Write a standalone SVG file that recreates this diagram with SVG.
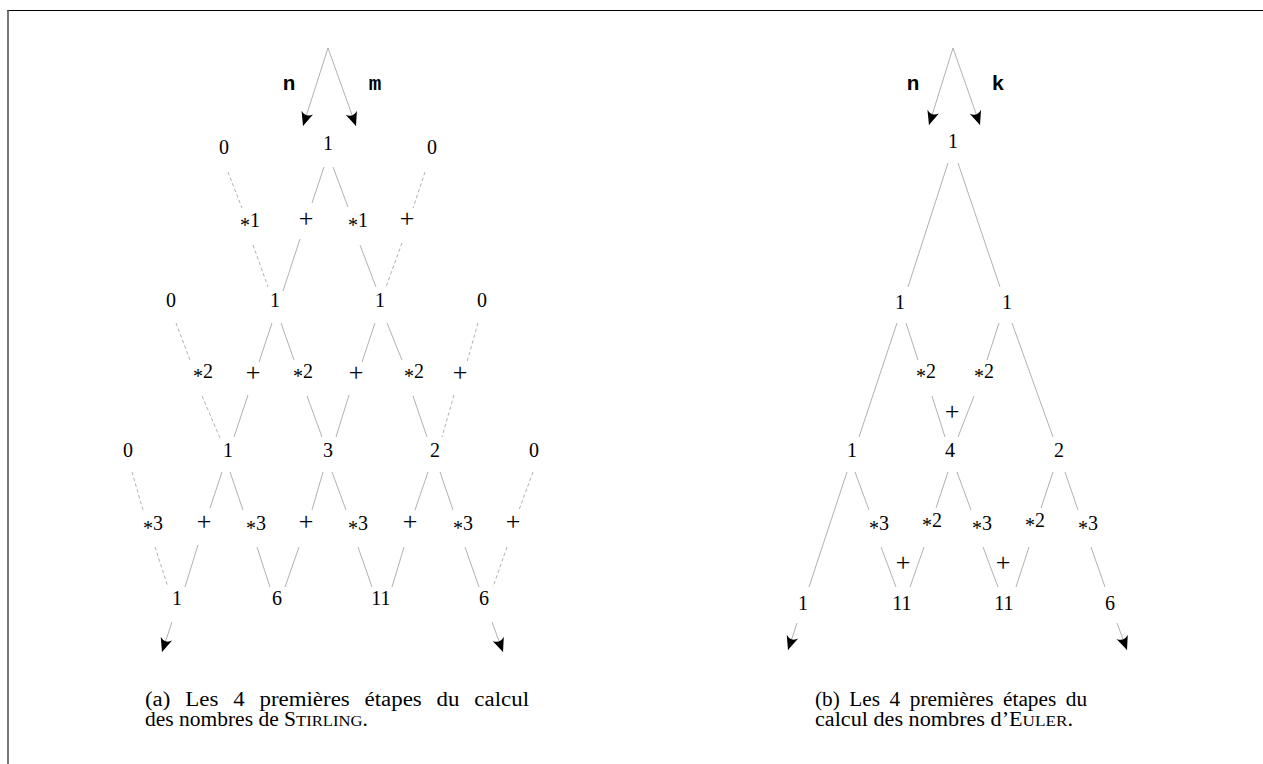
<svg xmlns="http://www.w3.org/2000/svg" width="1263" height="764" viewBox="0 0 1263 764">
<style>
.e{stroke:#a8a8a8;stroke-width:0.9;fill:none}
.d{stroke-dasharray:3.5 2.5}
.a{marker-end:url(#arr)}
.t{font-family:"Liberation Serif",serif;font-size:20px;text-anchor:middle;fill:#000}
.p{font-family:"Liberation Serif",serif;font-size:26px;text-anchor:middle;fill:#000}
.v{font-family:"Liberation Mono",monospace;font-weight:bold;font-size:21px;text-anchor:middle;fill:#000}
.c{font-family:"Liberation Serif",serif;font-size:20px;fill:#000}
.sc{font-size:15.5px}
</style>
<defs>
<marker id="arr" viewBox="-15 -7 16 14" markerWidth="16" markerHeight="14" refX="0" refY="0" orient="auto" markerUnits="userSpaceOnUse">
<path d="M0,0 L-14,-6 Q-8.5,0 -14,6 Z" fill="#000"/>
</marker>
</defs>
<rect width="1263" height="764" fill="#fff"/>
<g id="frame">
<line x1="7" y1="10.5" x2="1263" y2="10.5" stroke="#000" stroke-width="1.2"/>
<line x1="8" y1="10" x2="8" y2="764" stroke="#555" stroke-width="1.6"/>
</g>
<g id="connectors">
<line class="e a" x1="328" y1="48" x2="303" y2="126"/>
<line class="e a" x1="328" y1="48" x2="356" y2="126"/>
<line class="e d" x1="228" y1="172" x2="242" y2="208"/>
<line class="e d" x1="253" y1="245" x2="268" y2="287"/>
<line class="e" x1="324" y1="167" x2="312" y2="203"/>
<line class="e" x1="300" y1="239" x2="283" y2="291"/>
<line class="e" x1="333" y1="167" x2="348" y2="207"/>
<line class="e" x1="360" y1="245" x2="376" y2="287"/>
<line class="e d" x1="425" y1="172" x2="413" y2="208"/>
<line class="e d" x1="402" y1="243" x2="386" y2="287"/>
<line class="e d" x1="176" y1="323" x2="190" y2="360"/>
<line class="e d" x1="202" y1="396" x2="220" y2="438"/>
<line class="e" x1="272" y1="323" x2="259" y2="362"/>
<line class="e" x1="248" y1="395" x2="234" y2="437"/>
<line class="e" x1="281" y1="323" x2="294" y2="360"/>
<line class="e" x1="307" y1="396" x2="322" y2="437"/>
<line class="e" x1="375" y1="323" x2="362" y2="362"/>
<line class="e" x1="349" y1="395" x2="336" y2="437"/>
<line class="e" x1="387" y1="323" x2="402" y2="360"/>
<line class="e" x1="413" y1="396" x2="427" y2="437"/>
<line class="e d" x1="478" y1="323" x2="467" y2="362"/>
<line class="e d" x1="454" y1="395" x2="442" y2="437"/>
<line class="e d" x1="132" y1="472" x2="143" y2="510"/>
<line class="e d" x1="155" y1="547" x2="168" y2="587"/>
<line class="e" x1="222" y1="472" x2="210" y2="508"/>
<line class="e" x1="198" y1="545" x2="185" y2="587"/>
<line class="e" x1="230" y1="472" x2="243" y2="510"/>
<line class="e" x1="257" y1="547" x2="270" y2="587"/>
<line class="e" x1="323" y1="472" x2="312" y2="510"/>
<line class="e" x1="299" y1="547" x2="285" y2="587"/>
<line class="e" x1="332" y1="472" x2="346" y2="510"/>
<line class="e" x1="358" y1="547" x2="372" y2="587"/>
<line class="e" x1="428" y1="472" x2="415" y2="510"/>
<line class="e" x1="404" y1="547" x2="392" y2="587"/>
<line class="e" x1="440" y1="472" x2="453" y2="510"/>
<line class="e" x1="465" y1="547" x2="479" y2="587"/>
<line class="e d" x1="533" y1="472" x2="519" y2="510"/>
<line class="e d" x1="507" y1="547" x2="493" y2="587"/>
<line class="e a" x1="172" y1="622" x2="162" y2="652"/>
<line class="e a" x1="492" y1="622" x2="503" y2="652"/>
<line class="e a" x1="953" y1="48" x2="929" y2="125"/>
<line class="e a" x1="953" y1="48" x2="980" y2="125"/>
<line class="e" x1="948" y1="163" x2="908" y2="287"/>
<line class="e" x1="958" y1="163" x2="1000" y2="287"/>
<line class="e" x1="897" y1="323" x2="859" y2="437"/>
<line class="e" x1="906" y1="323" x2="918" y2="360"/>
<line class="e" x1="932" y1="396" x2="945" y2="437"/>
<line class="e" x1="999" y1="323" x2="987" y2="360"/>
<line class="e" x1="974" y1="396" x2="958" y2="437"/>
<line class="e" x1="1012" y1="323" x2="1053" y2="437"/>
<line class="e" x1="847" y1="472" x2="809" y2="587"/>
<line class="e" x1="855" y1="472" x2="869" y2="510"/>
<line class="e" x1="881" y1="547" x2="896" y2="587"/>
<line class="e" x1="948" y1="472" x2="936" y2="508"/>
<line class="e" x1="924" y1="547" x2="910" y2="587"/>
<line class="e" x1="957" y1="472" x2="971" y2="510"/>
<line class="e" x1="983" y1="547" x2="998" y2="587"/>
<line class="e" x1="1053" y1="472" x2="1041" y2="508"/>
<line class="e" x1="1029" y1="547" x2="1016" y2="587"/>
<line class="e" x1="1065" y1="472" x2="1078" y2="510"/>
<line class="e" x1="1091" y1="547" x2="1105" y2="587"/>
<line class="e a" x1="797" y1="623" x2="788" y2="650"/>
<line class="e a" x1="1117" y1="623" x2="1127" y2="650"/>
</g>
<g id="stirling">
<g id="s-n"><text class="v" x="289" y="90">n</text></g>
<g id="s-m"><text class="v" x="375" y="90">m</text></g>
<g id="s00"><text class="t" x="224" y="154">0</text></g>
<g id="s01"><text class="t" x="328" y="150">1</text></g>
<g id="s02"><text class="t" x="432" y="154">0</text></g>
<g id="so1a"><text class="t" x="250" y="227"><tspan dy="4.5">*</tspan><tspan dy="-4.5">1</tspan></text></g>
<g id="so1b"><text class="p" x="306" y="227">+</text></g>
<g id="so1c"><text class="t" x="358" y="227"><tspan dy="4.5">*</tspan><tspan dy="-4.5">1</tspan></text></g>
<g id="so1d"><text class="p" x="407" y="227">+</text></g>
<g id="s10"><text class="t" x="171" y="307">0</text></g>
<g id="s11"><text class="t" x="275" y="307">1</text></g>
<g id="s12"><text class="t" x="380" y="307">1</text></g>
<g id="s13"><text class="t" x="482" y="307">0</text></g>
<g id="so2a"><text class="t" x="203" y="378"><tspan dy="4.5">*</tspan><tspan dy="-4.5">2</tspan></text></g>
<g id="so2b"><text class="p" x="253" y="381">+</text></g>
<g id="so2c"><text class="t" x="303" y="378"><tspan dy="4.5">*</tspan><tspan dy="-4.5">2</tspan></text></g>
<g id="so2d"><text class="p" x="356" y="381">+</text></g>
<g id="so2e"><text class="t" x="414" y="378"><tspan dy="4.5">*</tspan><tspan dy="-4.5">2</tspan></text></g>
<g id="so2f"><text class="p" x="460" y="381">+</text></g>
<g id="s20"><text class="t" x="128" y="457">0</text></g>
<g id="s21"><text class="t" x="228" y="457">1</text></g>
<g id="s22"><text class="t" x="328" y="457">3</text></g>
<g id="s23"><text class="t" x="435" y="457">2</text></g>
<g id="s24"><text class="t" x="534" y="457">0</text></g>
<g id="so3a"><text class="t" x="153" y="530"><tspan dy="4.5">*</tspan><tspan dy="-4.5">3</tspan></text></g>
<g id="so3b"><text class="p" x="204" y="530">+</text></g>
<g id="so3c"><text class="t" x="256" y="530"><tspan dy="4.5">*</tspan><tspan dy="-4.5">3</tspan></text></g>
<g id="so3d"><text class="p" x="306" y="530">+</text></g>
<g id="so3e"><text class="t" x="358" y="530"><tspan dy="4.5">*</tspan><tspan dy="-4.5">3</tspan></text></g>
<g id="so3f"><text class="p" x="410" y="530">+</text></g>
<g id="so3g"><text class="t" x="463" y="530"><tspan dy="4.5">*</tspan><tspan dy="-4.5">3</tspan></text></g>
<g id="so3h"><text class="p" x="513" y="530">+</text></g>
<g id="s30"><text class="t" x="177" y="605">1</text></g>
<g id="s31"><text class="t" x="277" y="605">6</text></g>
<g id="s32"><text class="t" x="381" y="605">11</text></g>
<g id="s33"><text class="t" x="484" y="605">6</text></g>
<g id="cap-a"><text class="c" x="145" y="706" word-spacing="8" textLength="384" lengthAdjust="spacingAndGlyphs">(a) Les 4 premières étapes du calcul</text>
<text class="c" x="145" y="726" textLength="223" lengthAdjust="spacingAndGlyphs">des nombres de S<tspan class="sc">TIRLING</tspan>.</text></g>
</g>
<g id="euler">
<g id="e-n"><text class="v" x="913" y="90">n</text></g>
<g id="e-k"><text class="v" x="998" y="90">k</text></g>
<g id="e00"><text class="t" x="953" y="148">1</text></g>
<g id="e10"><text class="t" x="900" y="309">1</text></g>
<g id="e11"><text class="t" x="1007" y="309">1</text></g>
<g id="eo1a"><text class="t" x="926" y="378"><tspan dy="4.5">*</tspan><tspan dy="-4.5">2</tspan></text></g>
<g id="eo1b"><text class="t" x="984" y="378"><tspan dy="4.5">*</tspan><tspan dy="-4.5">2</tspan></text></g>
<g id="eo1c"><text class="p" x="952" y="420">+</text></g>
<g id="e20"><text class="t" x="852" y="457">1</text></g>
<g id="e21"><text class="t" x="950" y="457">4</text></g>
<g id="e22"><text class="t" x="1059" y="457">2</text></g>
<g id="eo2a"><text class="t" x="879" y="530"><tspan dy="4.5">*</tspan><tspan dy="-4.5">3</tspan></text></g>
<g id="eo2b"><text class="t" x="932" y="527"><tspan dy="4.5">*</tspan><tspan dy="-4.5">2</tspan></text></g>
<g id="eo2c"><text class="t" x="982" y="530"><tspan dy="4.5">*</tspan><tspan dy="-4.5">3</tspan></text></g>
<g id="eo2d"><text class="t" x="1035" y="527"><tspan dy="4.5">*</tspan><tspan dy="-4.5">2</tspan></text></g>
<g id="eo2e"><text class="t" x="1088" y="530"><tspan dy="4.5">*</tspan><tspan dy="-4.5">3</tspan></text></g>
<g id="eo2f"><text class="p" x="903" y="571">+</text></g>
<g id="eo2g"><text class="p" x="1003" y="571">+</text></g>
<g id="e30"><text class="t" x="803" y="610">1</text></g>
<g id="e31"><text class="t" x="902" y="610">11</text></g>
<g id="e32"><text class="t" x="1004" y="610">11</text></g>
<g id="e33"><text class="t" x="1110" y="610">6</text></g>
<g id="cap-b"><text class="c" x="815" y="706" word-spacing="4" textLength="272" lengthAdjust="spacingAndGlyphs">(b) Les 4 premières étapes du</text>
<text class="c" x="815" y="726" textLength="258" lengthAdjust="spacingAndGlyphs">calcul des nombres d’E<tspan class="sc">ULER</tspan>.</text></g>
</g>
</svg>
